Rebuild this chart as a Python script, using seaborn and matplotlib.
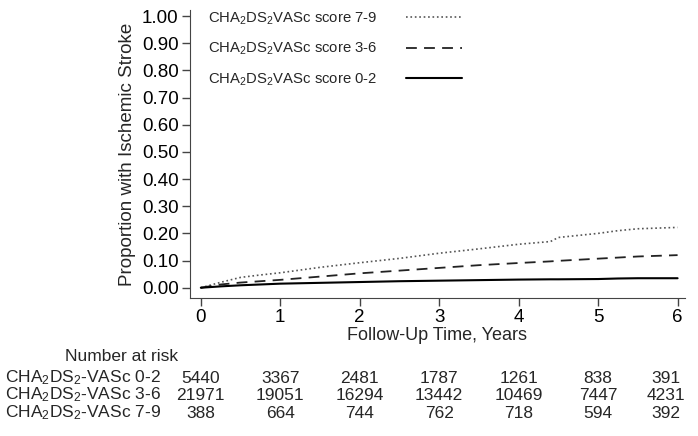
import numpy as np
import matplotlib
matplotlib.use('Agg')
import matplotlib.pyplot as plt
import seaborn as sns

# cumulative incidence
years = [0, 0.25, 0.5, 0.75, 1, 1.5, 2, 2.5, 3, 3.5, 4, 4.4, 4.5, 5, 5.25, 5.5, 6]
score_79 = [0, 0.02, 0.038, 0.047, 0.055, 0.075, 0.092, 0.108, 0.127, 0.143, 0.16, 0.17, 0.185, 0.2, 0.21, 0.217, 0.222]
score_36 = [0, 0.012, 0.019, 0.024, 0.029, 0.041, 0.053, 0.063, 0.073, 0.083, 0.091, 0.097, 0.099, 0.107, 0.111, 0.115, 0.12]
score_02 = [0, 0.005, 0.009, 0.012, 0.015, 0.018, 0.021, 0.024, 0.026, 0.028, 0.03, 0.031, 0.031, 0.032, 0.034, 0.035, 0.035]

risk_times = [0, 1, 2, 3, 4, 5, 6]
risk_02 = [5440, 3367, 2481, 1787, 1261, 838, 391]
risk_36 = [21971, 19051, 16294, 13442, 10469, 7447, 4231]
risk_79 = [388, 664, 744, 762, 718, 594, 392]
risk_labels = ['CHA$_2$DS$_2$-VASc 0-2', 'CHA$_2$DS$_2$-VASc 3-6', 'CHA$_2$DS$_2$-VASc 7-9']

sns.set_style('ticks')
plt.rcParams['font.family'] = ['Liberation Sans', 'DejaVu Sans']
plt.rcParams['mathtext.fontset'] = 'custom'
plt.rcParams['mathtext.rm'] = 'Liberation Sans'
plt.rcParams['mathtext.it'] = 'Liberation Sans'
plt.rcParams['mathtext.default'] = 'regular'

fig = plt.figure(figsize=(6.98, 4.36), dpi=100)
ax = fig.add_axes([0.272, 0.317, 0.709, 0.66])

sns.lineplot(x=years, y=score_79, ax=ax, color='#555555', linestyle=':', linewidth=1.2,
             label='CHA$_2$DS$_2$VASc score 7-9')
sns.lineplot(x=years, y=score_36, ax=ax, color='#222222', linestyle=(0, (6, 4)), linewidth=1.3,
             label='CHA$_2$DS$_2$VASc score 3-6')
sns.lineplot(x=years, y=score_02, ax=ax, color='black', linestyle='-', linewidth=1.5,
             label='CHA$_2$DS$_2$VASc score 0-2')

ax.set_xlim(-0.138, 6.09)
ax.set_ylim(-0.037, 1.022)
yt = np.arange(0, 1.01, 0.1)
ax.set_yticks(yt)
ax.set_yticklabels(['%.2f' % v for v in yt])
ax.set_xticks(risk_times)
ax.tick_params(labelsize=13.5, length=6, width=1, colors='#444444', labelcolor='black', pad=2)
for s in ['left', 'bottom']:
    ax.spines[s].set_color('#444444')
sns.despine(ax=ax)
ax.set_xlabel('Follow-Up Time, Years', fontsize=13, labelpad=1)
ax.set_ylabel('Proportion with Ischemic Stroke', fontsize=13.5, labelpad=4)

ax.legend(loc='upper left', bbox_to_anchor=(0.01, 1.045), frameon=False, markerfirst=False,
          fontsize=10.7, handlelength=3.8, handletextpad=1.9, labelspacing=0.95)

# number at risk table
fig.text(65 / 698, 1 - 356 / 436, 'Number at risk', fontsize=12.5, va='center')
rows = [risk_02, risk_36, risk_79]
ys = [378, 395, 413]
for lab, vals, yp in zip(risk_labels, rows, ys):
    fig.text(5 / 698, 1 - yp / 436, lab, fontsize=12.5, va='center')
    for t, v in zip(risk_times, vals):
        xf = ax.transData.transform((t, 0))[0] / fig.bbox.width
        if t == 6:
            xf -= 0.017
        fig.text(xf, 1 - yp / 436, str(v), fontsize=12.5, ha='center', va='center')

fig.savefig('out.png', dpi=100)
